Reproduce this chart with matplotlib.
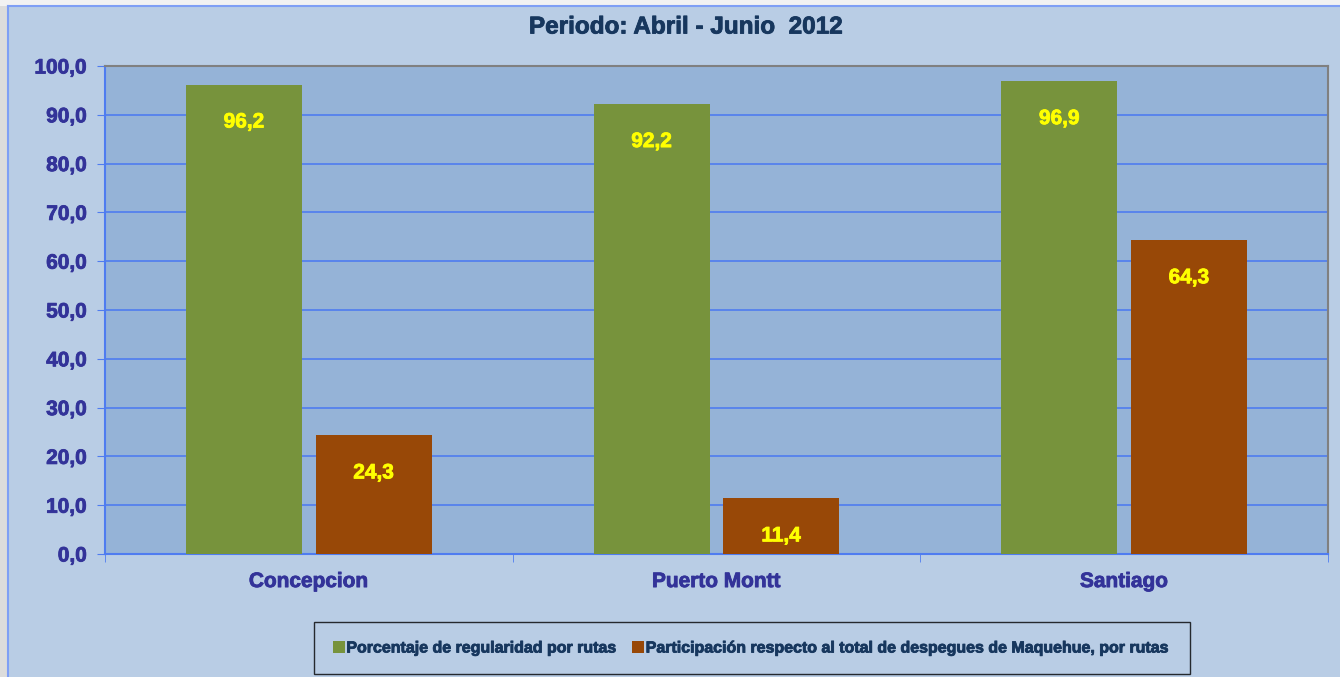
import numpy as np
import matplotlib.pyplot as plt
import matplotlib.patheffects as pe
from matplotlib.patches import Rectangle
from matplotlib.ticker import FixedLocator

# Datos del gráfico
rutas = ["Concepcion", "Puerto Montt", "Santiago"]
regularidad = [96.2, 92.2, 96.9]
participacion = [24.3, 11.4, 64.3]
etiquetas_series = ["Porcentaje de regularidad por rutas",
                    "Participación respecto al total de despegues de Maquehue, por rutas"]
ticks_y = [0, 10, 20, 30, 40, 50, 60, 70, 80, 90, 100]

plt.rcParams['font.family'] = ['Liberation Sans', 'DejaVu Sans']

verde = "#77933c"
cafe = "#984807"
fondo = "#b9cde5"
fondo_plot = "#95b3d7"
azul = "#4f7cf0"
texto_ejes = "#333399"
texto_titulo = "#17375e"


# engrosar un poco el texto en negrita
def grueso(color):
    return [pe.withStroke(linewidth=0.6, foreground=color)]


fig = plt.figure(figsize=(13.4, 6.77), dpi=100)
fig.patch.set_facecolor(fondo)
# franjas grises de borde (captura de pantalla)
fig.patches.append(Rectangle((0, 0), 8 / 1340, 1, transform=fig.transFigure,
                             facecolor="#dcdcdc", edgecolor="none", zorder=0))
fig.patches.append(Rectangle((0, 1 - 6 / 677), 1, 6 / 677, transform=fig.transFigure,
                             facecolor="#f2f2f2", edgecolor="none", zorder=0))
fig.add_artist(plt.Line2D([8 / 1340, 8 / 1340], [0, 1 - 6 / 677], transform=fig.transFigure,
                          color="#7f9ff5", lw=1.5))
fig.add_artist(plt.Line2D([8 / 1340, 1], [1 - 6 / 677, 1 - 6 / 677], transform=fig.transFigure,
                          color="#7f9ff5", lw=1.5))

ax = fig.add_axes([105 / 1340, 1 - 554 / 677, (1328 - 105) / 1340, (554 - 66) / 677])
ax.set_facecolor(fondo_plot)

x = np.arange(len(rutas))
ancho = 0.285
off = 0.159
b1 = ax.bar(x - off, regularidad, ancho, color=verde, zorder=3, label=etiquetas_series[0])
b2 = ax.bar(x + off, participacion, ancho, color=cafe, zorder=3, label=etiquetas_series[1])

for barras, vals in [(b1, regularidad), (b2, participacion)]:
    for b, v in zip(barras, vals):
        ax.annotate(f"{v:.1f}".replace(".", ","), (b.get_x() + b.get_width() / 2, v),
                    xytext=(0, -27), textcoords="offset points", ha="center", va="center",
                    color="#ffff00", fontsize=15, fontweight="bold", zorder=4,
                    path_effects=grueso("#ffff00"))

ax.set_xlim(-0.5, 2.5)
ax.set_ylim(0, 100)
ax.set_yticks(ticks_y)
ax.set_yticklabels([f"{t:.1f}".replace(".", ",") for t in ticks_y])
ax.grid(axis="y", color=azul, lw=1.2, zorder=1)
ax.set_xticks(x)
ax.set_xticklabels(rutas)
ax.xaxis.set_minor_locator(FixedLocator([-0.5, 0.5, 1.5, 2.5]))
ax.tick_params(axis="x", which="major", length=0, pad=13)
ax.tick_params(axis="x", which="minor", length=6, color=azul)
ax.tick_params(axis="y", length=6, color=azul, pad=7)
for lab in ax.get_xticklabels():
    lab.set_color(texto_ejes)
    lab.set_fontweight("bold")
    lab.set_fontsize(15)
    lab.set_path_effects(grueso(texto_ejes))
for lab in ax.get_yticklabels():
    lab.set_color(texto_ejes)
    lab.set_fontweight("bold")
    lab.set_fontsize(15)
    lab.set_path_effects(grueso(texto_ejes))

ax.spines["left"].set_color(azul)
ax.spines["bottom"].set_color(azul)
ax.spines["left"].set_linewidth(1.5)
ax.spines["bottom"].set_linewidth(1.5)
ax.spines["top"].set_color("#808080")
ax.spines["right"].set_color("#808080")
ax.spines["top"].set_linewidth(1.5)
ax.spines["right"].set_linewidth(1.5)

fig.text(686 / 1340, 1 - 27 / 677, "Periodo: Abril - Junio  2012", ha="center", va="center",
         fontsize=17.5, fontweight="bold", color=texto_titulo, path_effects=grueso(texto_titulo))

leg = fig.legend(handles=[b1, b2], loc="center", bbox_to_anchor=(752 / 1340, 1 - 648 / 677),
                 ncol=2, frameon=True, fancybox=False, edgecolor="black", facecolor=fondo,
                 handlelength=0.75, handleheight=0.75, handletextpad=0.1, columnspacing=0.9,
                 borderpad=1.15, prop={"weight": "bold", "size": 11.5})
leg.get_frame().set_linewidth(1.0)
for t in leg.get_texts():
    t.set_color(texto_titulo)
    t.set_path_effects(grueso(texto_titulo))

fig.savefig("out.png", dpi=100, facecolor=fig.get_facecolor())
